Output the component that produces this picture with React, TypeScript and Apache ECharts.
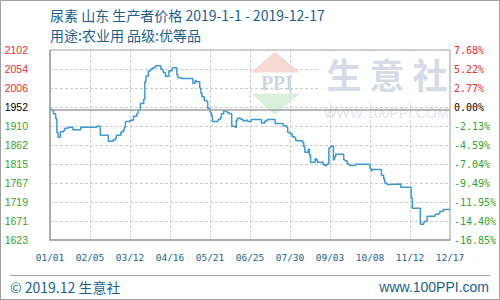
import React, { useEffect, useRef } from "react";
import * as echarts from "echarts";

const dates = [
  "2019-01-01","2019-01-03","2019-01-04","2019-01-06","2019-01-07","2019-01-08","2019-01-10","2019-01-13","2019-01-14","2019-01-17",
  "2019-01-21","2019-01-28","2019-02-11","2019-02-14","2019-02-21","2019-02-25","2019-02-27","2019-02-28","2019-03-04","2019-03-06",
  "2019-03-07","2019-03-08","2019-03-12","2019-03-15","2019-03-18","2019-03-19","2019-03-21","2019-03-24","2019-03-25","2019-03-26",
  "2019-03-28","2019-03-30","2019-04-01","2019-04-03","2019-04-08","2019-04-09","2019-04-10","2019-04-12","2019-04-15","2019-04-18",
  "2019-04-22","2019-04-23","2019-04-26","2019-05-06","2019-05-08","2019-05-09","2019-05-12","2019-05-13","2019-05-14","2019-05-16",
  "2019-05-18","2019-05-19","2019-05-21","2019-05-22","2019-05-23","2019-05-28","2019-05-30","2019-05-31","2019-06-02","2019-06-05",
  "2019-06-07","2019-06-09","2019-06-12","2019-06-13","2019-06-14","2019-06-17","2019-06-19","2019-06-21","2019-06-23","2019-06-26",
  "2019-07-05","2019-07-08","2019-07-10","2019-07-17","2019-07-24","2019-07-27","2019-07-28","2019-07-30","2019-08-01","2019-08-03",
  "2019-08-04","2019-08-10","2019-08-11","2019-08-12","2019-08-15","2019-08-16","2019-08-17","2019-08-21","2019-08-22","2019-08-23",
  "2019-08-28","2019-08-29","2019-08-31","2019-09-02","2019-09-03","2019-09-04","2019-09-06","2019-09-07","2019-09-08","2019-09-15",
  "2019-09-16","2019-09-18","2019-09-19","2019-09-20","2019-09-25","2019-10-08","2019-10-09","2019-10-10","2019-10-18","2019-10-20",
  "2019-10-21","2019-10-23","2019-10-26","2019-11-04","2019-11-13","2019-11-14","2019-11-21","2019-11-24","2019-11-25","2019-11-27",
  "2019-12-04","2019-12-07","2019-12-08","2019-12-11","2019-12-17"
];

const prices = [
  1952,1949,1941,1929,1894,1882,1896,1899,1905,1907,
  1901,1907,1910,1887,1872,1875,1879,1887,1895,1900,
  1907,1922,1925,1935,1942,1950,1967,1978,2022,2036,
  2049,2054,2057,2062,2054,2052,2045,2036,2050,2057,
  2039,2032,2030,2018,2025,2022,2006,1993,1984,1975,
  1973,1955,1946,1938,1922,1927,1931,1941,1948,1944,
  1941,1910,1907,1925,1930,1927,1923,1925,1922,1927,
  1918,1923,1927,1917,1911,1907,1894,1891,1883,1881,
  1873,1869,1859,1844,1852,1837,1819,1828,1825,1819,
  1814,1811,1814,1854,1857,1860,1825,1833,1839,1825,
  1823,1816,1814,1811,1814,1804,1798,1801,1786,1777,
  1766,1763,1764,1756,1728,1703,1663,1668,1670,1683,
  1688,1690,1695,1700,1700
];

const leftTickLabels = ["1623","1671","1719","1767","1815","1862","1910","1952","2006","2054","2102"];
const rightTickLabels = ["-16.85%","-14.40%","-11.95%","-9.49%","-7.04%","-4.59%","-2.13%","0.00%","2.77%","5.22%","7.68%"];
const xTickLabels = ["01/01","02/05","03/12","04/16","05/21","06/25","07/30","09/03","10/08","11/12","12/17"];

const axisMin = 1623;
const axisMax = 2102;
const basePrice = 1952;
const dayStep = 35;
const totalDays = 350;

const titleLine1 = "尿素 山东 生产者价格 2019-1-1 - 2019-12-17";
const titleLine2 = "用途:农业用 品级:优等品";
const footerLeft = "© 2019.12 生意社";
const footerRight = "www.100PPI.com";

const BLUE_TEXT = "#1b5f8e";
const LINE_BLUE = "#3d9ad6";

function dayOffset(s: string): number {
  const [y, m, d] = s.split("-").map(Number);
  return Math.round((Date.UTC(y, m - 1, d) - Date.UTC(2019, 0, 1)) / 86400000);
}

export default function App() {
  const ref = useRef<HTMLDivElement>(null);

  useEffect(() => {
    if (!ref.current) return;
    const chart = echarts.init(ref.current, null, { renderer: "svg" });
    const range = axisMax - axisMin;
    const yInterval = range / 10;
    const idxOf = (v: number) => Math.round(v / yInterval);
    const labelColor = (i: number) => (i < 7 ? "#2fa52f" : i === 7 ? "#000000" : "#f02b2b");

    const seriesData = dates.map((d, i) => [dayOffset(d), prices[i] - axisMin]);

    const option: any = {
      animation: false,
      backgroundColor: "#ffffff",
      grid: {
        left: 50,
        right: 50,
        top: 50,
        bottom: 60,
        show: true,
        borderColor: "#a0a0a0",
        borderWidth: 1,
        backgroundColor: "transparent",
      },
      xAxis: {
        type: "value",
        min: 0,
        max: totalDays,
        interval: dayStep,
        axisLine: { show: true, lineStyle: { color: "#a0a0a0", width: 1.5 } },
        axisTick: { show: false },
        axisLabel: {
          margin: 12,
          fontFamily: "DejaVu Sans Mono",
          fontSize: 9.5,
          color: BLUE_TEXT,
          formatter: (v: number) => xTickLabels[Math.round(v / dayStep)] ?? "",
        },
        splitLine: { show: true, lineStyle: { color: "#cccccc", type: [3, 2], width: 1 } },
      },
      yAxis: [
        {
          type: "value",
          position: "left",
          min: 0,
          max: range,
          interval: yInterval,
          axisLine: { show: true, lineStyle: { color: "#a0a0a0", width: 1.5 } },
          axisTick: { show: false },
          axisLabel: {
            margin: 22,
            fontFamily: "Liberation Sans",
            fontSize: 10.5,
            formatter: (v: number) => leftTickLabels[idxOf(v)] ?? "",
            color: (v: number) => labelColor(idxOf(v)),
          },
          splitLine: { show: true, lineStyle: { color: "#cccccc", type: [3, 2], width: 1 } },
        },
        {
          type: "value",
          position: "right",
          min: 0,
          max: range,
          interval: yInterval,
          axisLine: { show: false },
          axisTick: { show: false },
          axisLabel: {
            margin: 4,
            fontFamily: "DejaVu Sans Mono",
            fontSize: 10,
            formatter: (v: number) => rightTickLabels[idxOf(v)] ?? "",
            color: (v: number) => labelColor(idxOf(v)),
          },
          splitLine: { show: false },
        },
      ],
      graphic: [
        { type: "rect", shape: { x: 0.5, y: 0.5, width: 499, height: 299 }, style: { fill: "none", stroke: "#a0a0a0", lineWidth: 1 }, z: 0 },
        { type: "text", x: 50, y: 15, style: { text: titleLine1, fill: BLUE_TEXT, font: '14px "Noto Sans CJK SC"', textVerticalAlign: "middle" } },
        { type: "text", x: 50, y: 35, style: { text: titleLine2, fill: BLUE_TEXT, font: '14px "Noto Sans CJK SC"', textVerticalAlign: "middle" } },
        { type: "line", shape: { x1: 10, y1: 275.5, x2: 490, y2: 275.5 }, style: { stroke: "#a0a0a0", lineWidth: 1 } },
        { type: "text", x: 10, y: 287, style: { text: footerLeft, fill: BLUE_TEXT, font: '14px "Noto Sans CJK SC"', textVerticalAlign: "middle" } },
        { type: "text", x: 489, y: 287, style: { text: footerRight, fill: BLUE_TEXT, font: '14px "Liberation Sans"', textAlign: "right", textVerticalAlign: "middle" } },
        // watermark
        { type: "polygon", z: 1, shape: { points: [[275, 51.5], [251, 72.5], [300, 72.5]] }, style: { fill: "#f7d9d3" } },
        { type: "polygon", z: 1, shape: { points: [[251, 93.5], [300, 93.5], [275, 115]] }, style: { fill: "#dbefdd" } },
        { type: "text", z: 1, x: 277, y: 83, style: { text: "PPI", fill: "#cdd5e4", font: 'bold 20px "Liberation Serif"', textAlign: "center", textVerticalAlign: "middle" } },
        { type: "rect", z: 1, shape: { x: 318, y: 52, width: 131, height: 50 }, style: { fill: "rgba(255,255,255,0.85)" } },
        { type: "text", z: 1, x: 344, y: 73, style: { text: "生", fill: "#d6dbe7", font: 'bold 35px "Noto Sans CJK SC"', textAlign: "center", textVerticalAlign: "middle" } },
        { type: "text", z: 1, x: 387, y: 73, style: { text: "意", fill: "#d6dbe7", font: 'bold 35px "Noto Sans CJK SC"', textAlign: "center", textVerticalAlign: "middle" } },
        { type: "text", z: 1, x: 430, y: 73, style: { text: "社", fill: "#d6dbe7", font: 'bold 35px "Noto Sans CJK SC"', textAlign: "center", textVerticalAlign: "middle" } },
        { type: "text", z: 1, x: 386, y: 113, style: { text: "WWW.100PPI.COM", fill: "#e3e6ec", font: '14px "Liberation Sans"', textAlign: "center", textVerticalAlign: "middle" } },
      ],
      series: [
        {
          type: "line",
          xAxisIndex: 0,
          yAxisIndex: 0,
          step: "end",
          showSymbol: false,
          symbol: "none",
          z: 3,
          lineStyle: { color: LINE_BLUE, width: 1.5 },
          data: seriesData,
          markLine: {
            silent: true,
            symbol: "none",
            label: { show: false },
            lineStyle: { color: "#a0a0a0", type: "solid", width: 1.5 },
            data: [{ yAxis: basePrice - axisMin }],
          },
        },
      ],
    };

    chart.setOption(option);
    return () => chart.dispose();
  }, []);

  return (
    <div
      ref={ref}
      style={{ position: "fixed", left: 0, top: 0, width: 500, height: 300, background: "#fff" }}
    />
  );
}
